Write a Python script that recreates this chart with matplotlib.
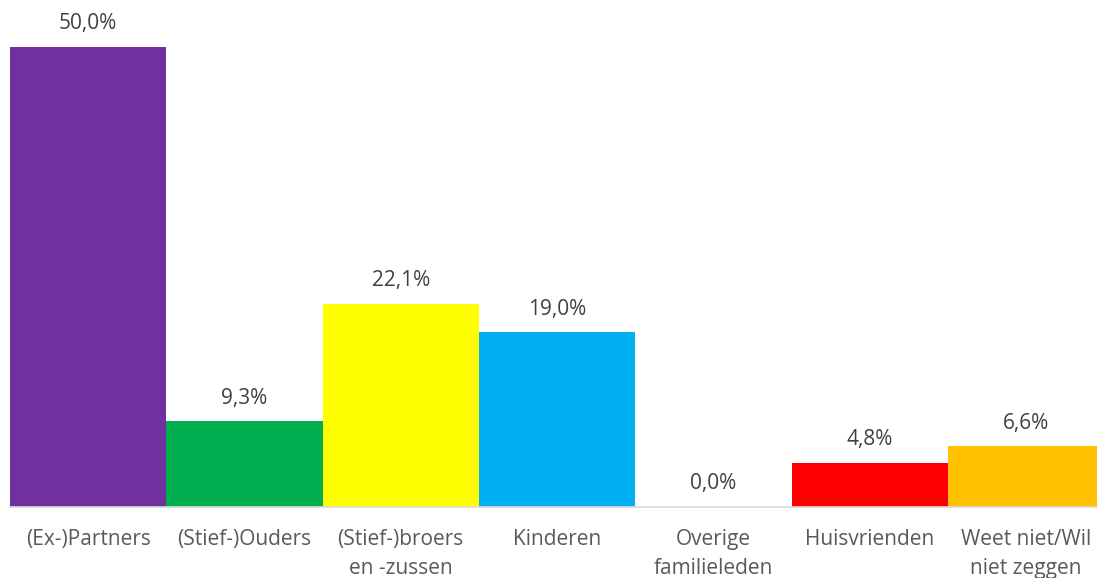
import matplotlib
matplotlib.use("Agg")
import matplotlib.pyplot as plt

categories = ["(Ex-)Partners", "(Stief-)Ouders", "(Stief-)broers\nen -zussen", "Kinderen",
              "Overige\nfamilieleden", "Huisvrienden", "Weet niet/Wil\nniet zeggen"]
values = [50.0, 9.3, 22.1, 19.0, 0.0, 4.8, 6.6]
colors = ["#7030A0", "#00B050", "#FFFF00", "#00B0F0", "#A5A5A5", "#FF0000", "#FFC000"]
value_labels = ["50,0%", "9,3%", "22,1%", "19,0%", "0,0%", "4,8%", "6,6%"]

plt.rcParams['font.family'] = ['Open Sans', 'DejaVu Sans']

W, H = 1097, 578
fig = plt.figure(figsize=(W / 100, H / 100), dpi=100)
bw = 156.3
ax = fig.add_axes([10 / W, 71 / H, 7 * bw / W, 460 / H])
x = list(range(len(categories)))
ax.bar(x, values, width=1.0, color=colors)
ax.set_xlim(-0.5, 6.5)
ax.set_ylim(0, 50)
for s in ["top", "right", "left"]:
    ax.spines[s].set_visible(False)
ax.spines["bottom"].set_color("#D9D9D9")
ax.spines["bottom"].set_linewidth(1.2)
ax.set_yticks([])
ax.set_xticks(x)
ax.set_xticklabels(categories, fontsize=15, color="#595959", linespacing=1.5,
                   va="top")
ax.tick_params(axis="x", length=0, pad=16)
for xi, v, lab in zip(x, values, value_labels):
    ax.annotate(lab, (xi, v), xytext=(0, 9), textcoords="offset points",
                ha="center", va="bottom", fontsize=15, color="#404040")
fig.savefig("out.png", dpi=100)
